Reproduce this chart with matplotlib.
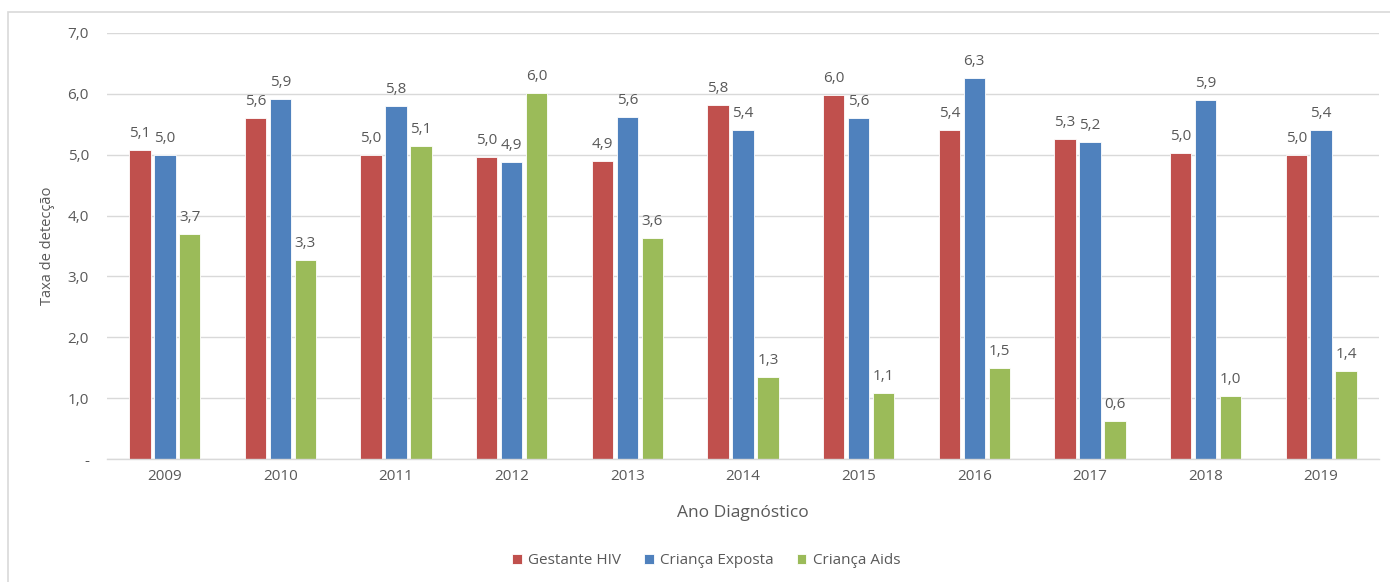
import matplotlib.pyplot as plt
import numpy as np
from matplotlib.patches import Rectangle

plt.rcParams["font.family"] = ["Open Sans", "DejaVu Sans"]

YEARS = ["2009", "2010", "2011", "2012", "2013", "2014", "2015", "2016", "2017", "2018", "2019"]
GESTANTE_HIV = [5.07, 5.60, 5.00, 4.97, 4.90, 5.82, 5.98, 5.41, 5.26, 5.03, 5.00]
CRIANCA_EXPOSTA = [5.00, 5.92, 5.80, 4.88, 5.62, 5.41, 5.60, 6.26, 5.21, 5.90, 5.41]
CRIANCA_AIDS = [3.70, 3.27, 5.14, 6.01, 3.63, 1.34, 1.08, 1.50, 0.62, 1.04, 1.45]
Y_TICKS = [0, 1, 2, 3, 4, 5, 6, 7]

SERIES = [
    ("Gestante HIV", GESTANTE_HIV, "#c0504d"),
    ("Criança Exposta", CRIANCA_EXPOSTA, "#4f81bd"),
    ("Criança Aids", CRIANCA_AIDS, "#9bbb59"),
]

TEXT_COLOR = "#595959"
GRID_COLOR = "#d9d9d9"


def fmt(v):
    return f"{v:.1f}".replace(".", ",")


fig = plt.figure(figsize=(13.9, 5.82), dpi=100)
fig.patches.append(Rectangle((8 / 1390, -0.2), 1.2, 1.2 - 12 / 582,
                             transform=fig.transFigure, fill=False,
                             edgecolor=GRID_COLOR, linewidth=1.2))
ax = fig.add_axes([107 / 1390, 1 - 459 / 582, (1379 - 107) / 1390, (459 - 33) / 582])

x = np.arange(len(YEARS))
offset = 0.216
width = 0.185
for i, (label, values, color) in enumerate(SERIES):
    pos = x + (i - 1) * offset
    bars = ax.bar(pos, values, width=width, color=color, edgecolor="white",
                  linewidth=0.6, label=label, zorder=3)
    for b, v in zip(bars, values):
        ax.annotate(fmt(v), (b.get_x() + b.get_width() / 2, v), xytext=(0, 6.5),
                    textcoords="offset points", ha="center", va="bottom",
                    fontsize=11, color=TEXT_COLOR)

ax.set_xlim(-0.5, len(YEARS) - 0.5)
ax.set_ylim(0, 7)
ax.set_yticks(Y_TICKS)
ax.set_yticklabels(["-"] + [fmt(t) for t in Y_TICKS[1:]])
ax.set_xticks(x)
ax.set_xticklabels(YEARS)
ax.tick_params(axis="both", length=0, labelsize=11, colors=TEXT_COLOR)
ax.tick_params(axis="y", pad=13)
ax.tick_params(axis="x", pad=7)
ax.grid(axis="y", color=GRID_COLOR, linewidth=1, zorder=0)
for side in ("top", "right", "left"):
    ax.spines[side].set_visible(False)
ax.spines["bottom"].set_color(GRID_COLOR)
ax.spines["bottom"].set_linewidth(1)
ax.spines["bottom"].set_zorder(4)

ax.set_xlabel("Ano Diagnóstico", fontsize=12.5, color=TEXT_COLOR, labelpad=15)
ax.set_ylabel("Taxa de detecção", fontsize=10.5, color=TEXT_COLOR, labelpad=9)

fig.legend(loc="center", bbox_to_anchor=(706 / 1390, 1 - 561 / 582), ncol=3,
           frameon=False, fontsize=11, labelcolor=TEXT_COLOR,
           handlelength=0.65, handleheight=0.65, handletextpad=0.4, columnspacing=1.5)

fig.savefig("out.png", dpi=100)
